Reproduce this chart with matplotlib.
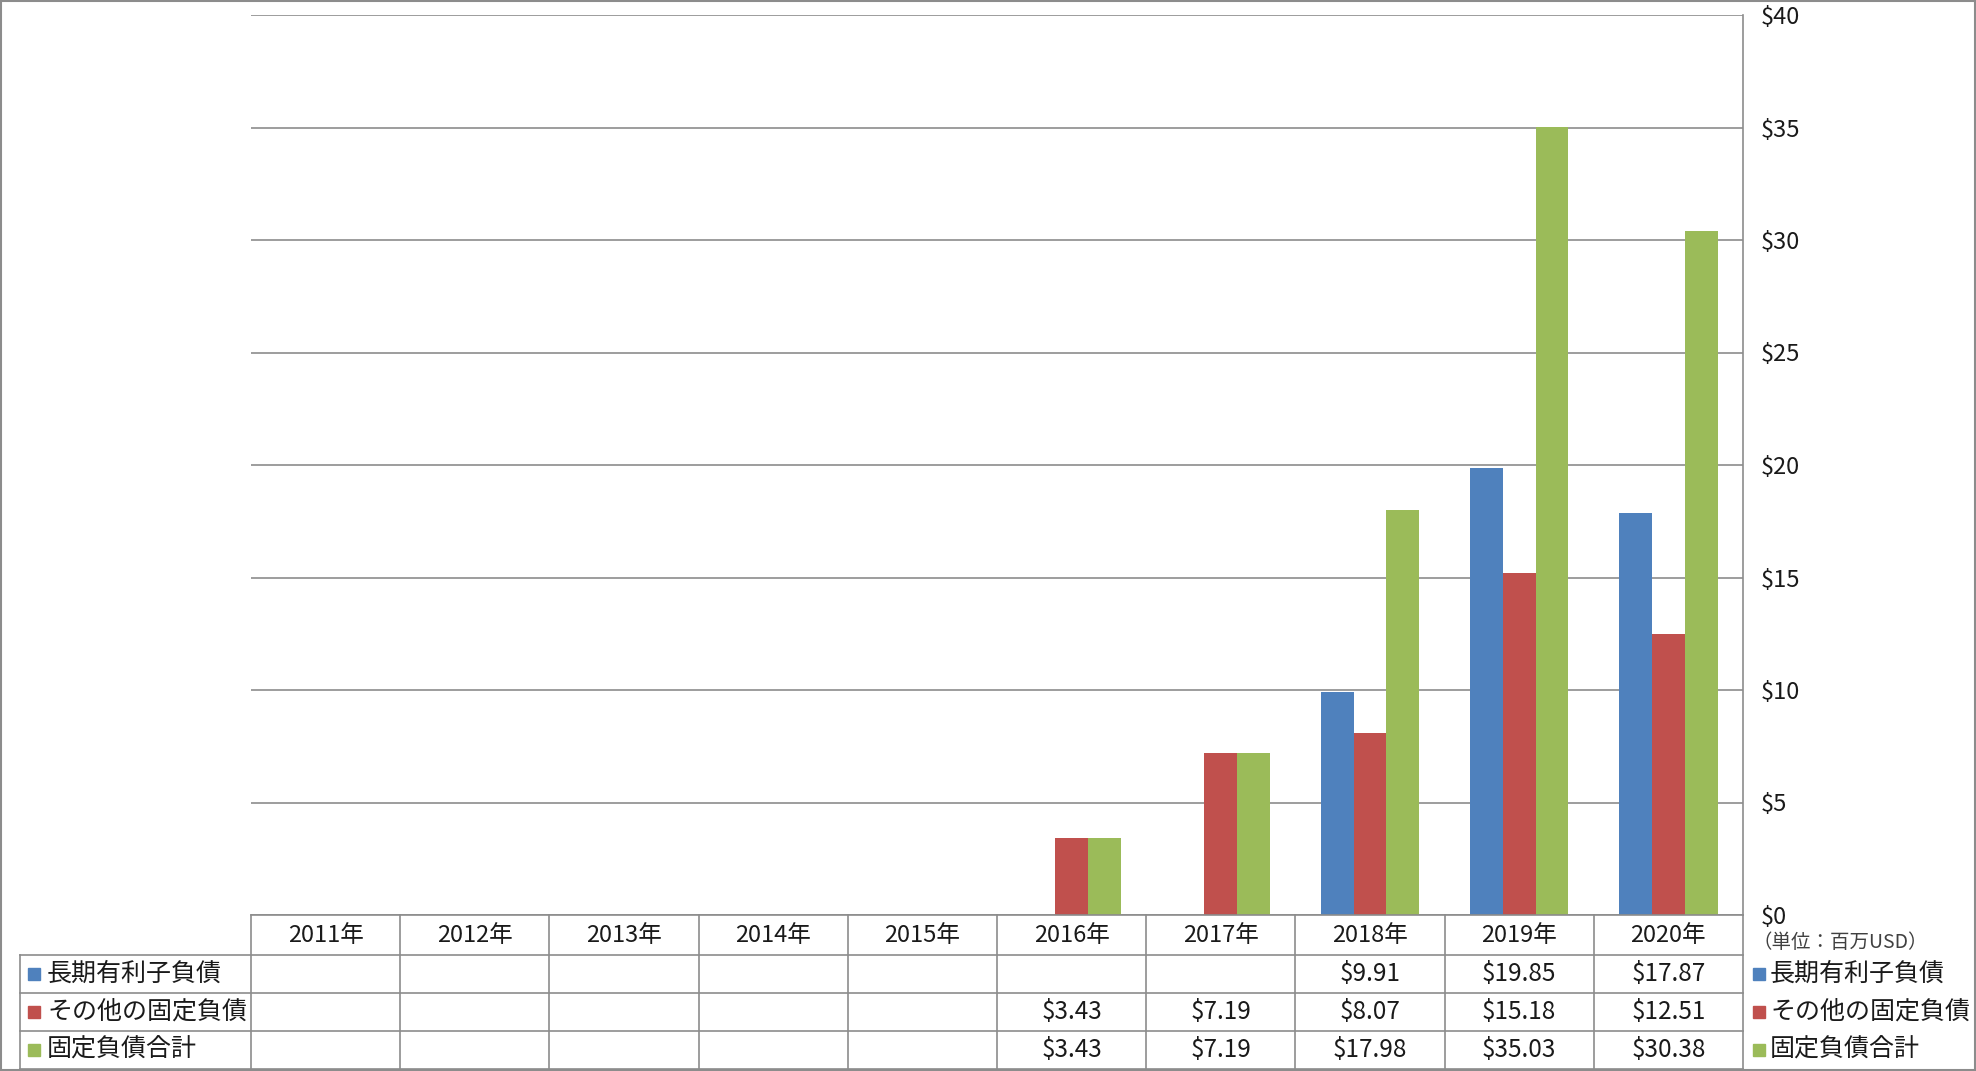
import matplotlib
matplotlib.use("Agg")
import matplotlib.pyplot as plt
from matplotlib.lines import Line2D
from matplotlib.patches import Rectangle
import numpy as np

plt.rcParams['font.family'] = ['Noto Sans CJK JP', 'DejaVu Sans']

years = ["2011年", "2012年", "2013年", "2014年", "2015年",
         "2016年", "2017年", "2018年", "2019年", "2020年"]
series_names = ["長期有利子負債", "その他の固定負債", "固定負債合計"]
long_term_debt = [None, None, None, None, None, None, None, 9.91, 19.85, 17.87]
other_fixed = [None, None, None, None, None, 3.43, 7.19, 8.07, 15.18, 12.51]
total_fixed = [None, None, None, None, None, 3.43, 7.19, 17.98, 35.03, 30.38]
colors = ["#4F81BD", "#C0504D", "#9BBB59"]
y_ticks = [0, 5, 10, 15, 20, 25, 30, 35, 40]
unit_label = "（単位：百万USD）"

W, H = 1976, 1071
fig = plt.figure(figsize=(W / 100, H / 100), dpi=100)

def fx(x):
    return x / W

def fy(y):
    return 1 - y / H

L, R, T, B = 251, 1743, 15, 915
ax = fig.add_axes([fx(L), fy(B), (R - L) / W, (B - T) / H])

series = [long_term_debt, other_fixed, total_fixed]
n = len(years)
x = np.arange(n)
bw = 0.22
for i, (vals, c) in enumerate(zip(series, colors)):
    v = [np.nan if a is None else a for a in vals]
    ax.bar(x + (i - 1) * bw, v, width=bw, color=c, zorder=3)

ax.set_xlim(-0.5, n - 0.5)
ax.set_ylim(0, 40)
ax.set_yticks(y_ticks)
ax.set_yticklabels([f"${t}" for t in y_ticks], fontsize=17, color='#1a1a1a')
ax.yaxis.tick_right()
ax.tick_params(axis='y', length=0, pad=13)
ax.set_xticks([])
ax.grid(axis='y', color='#8C8C8C', lw=1.2, zorder=0)
for s in ['left', 'top', 'bottom']:
    ax.spines[s].set_visible(False)
ax.spines['right'].set_color('#8C8C8C')
ax.spines['right'].set_linewidth(1.2)

gray = '#8C8C8C'
txt = '#1a1a1a'
def hline(y, x0, x1):
    fig.add_artist(Line2D([fx(x0), fx(x1)], [fy(y), fy(y)], color=gray, lw=1.2))

def vline(x, y0, y1):
    fig.add_artist(Line2D([fx(x), fx(x)], [fy(y0), fy(y1)], color=gray, lw=1.2))

rows = [915, 955, 993, 1031, 1069]
hline(rows[0], L, R)
for r in rows[1:]:
    hline(r, 20, R)
vline(20, rows[1], rows[-1])
colw = (R - L) / n
for k in range(n + 1):
    vline(L + k * colw, rows[0], rows[-1])

for k, yr in enumerate(years):
    cx = L + (k + 0.5) * colw
    fig.text(fx(cx), fy((rows[0] + rows[1]) / 2), yr, ha='center', va='center', fontsize=17, color=txt)

for j, (vals, name, c) in enumerate(zip(series, series_names, colors)):
    cy = (rows[j + 1] + rows[j + 2]) / 2
    for k, v in enumerate(vals):
        if v is not None:
            cx = L + (k + 0.5) * colw
            fig.text(fx(cx), fy(cy), f"${v:.2f}", ha='center', va='center', fontsize=17.5, color=txt)
    # left labels
    fig.add_artist(Rectangle((fx(28), fy(cy + 6)), 12 / W, 12 / H, color=c))
    fig.text(fx(47), fy(cy), name, ha='left', va='center', fontsize=18, color=txt)
    # right legend
    fig.add_artist(Rectangle((fx(1753), fy(cy + 6)), 12 / W, 12 / H, color=c))
    fig.text(fx(1770), fy(cy), name, ha='left', va='center', fontsize=18, color=txt)

fig.text(fx(1752), fy(943), unit_label, ha='left', va='center', fontsize=14, color='#404040')

fig.add_artist(Rectangle((0.0005, 0.0005), 0.999, 0.999, fill=False, edgecolor=gray, lw=1.5))

fig.savefig("out.png", dpi=100)
